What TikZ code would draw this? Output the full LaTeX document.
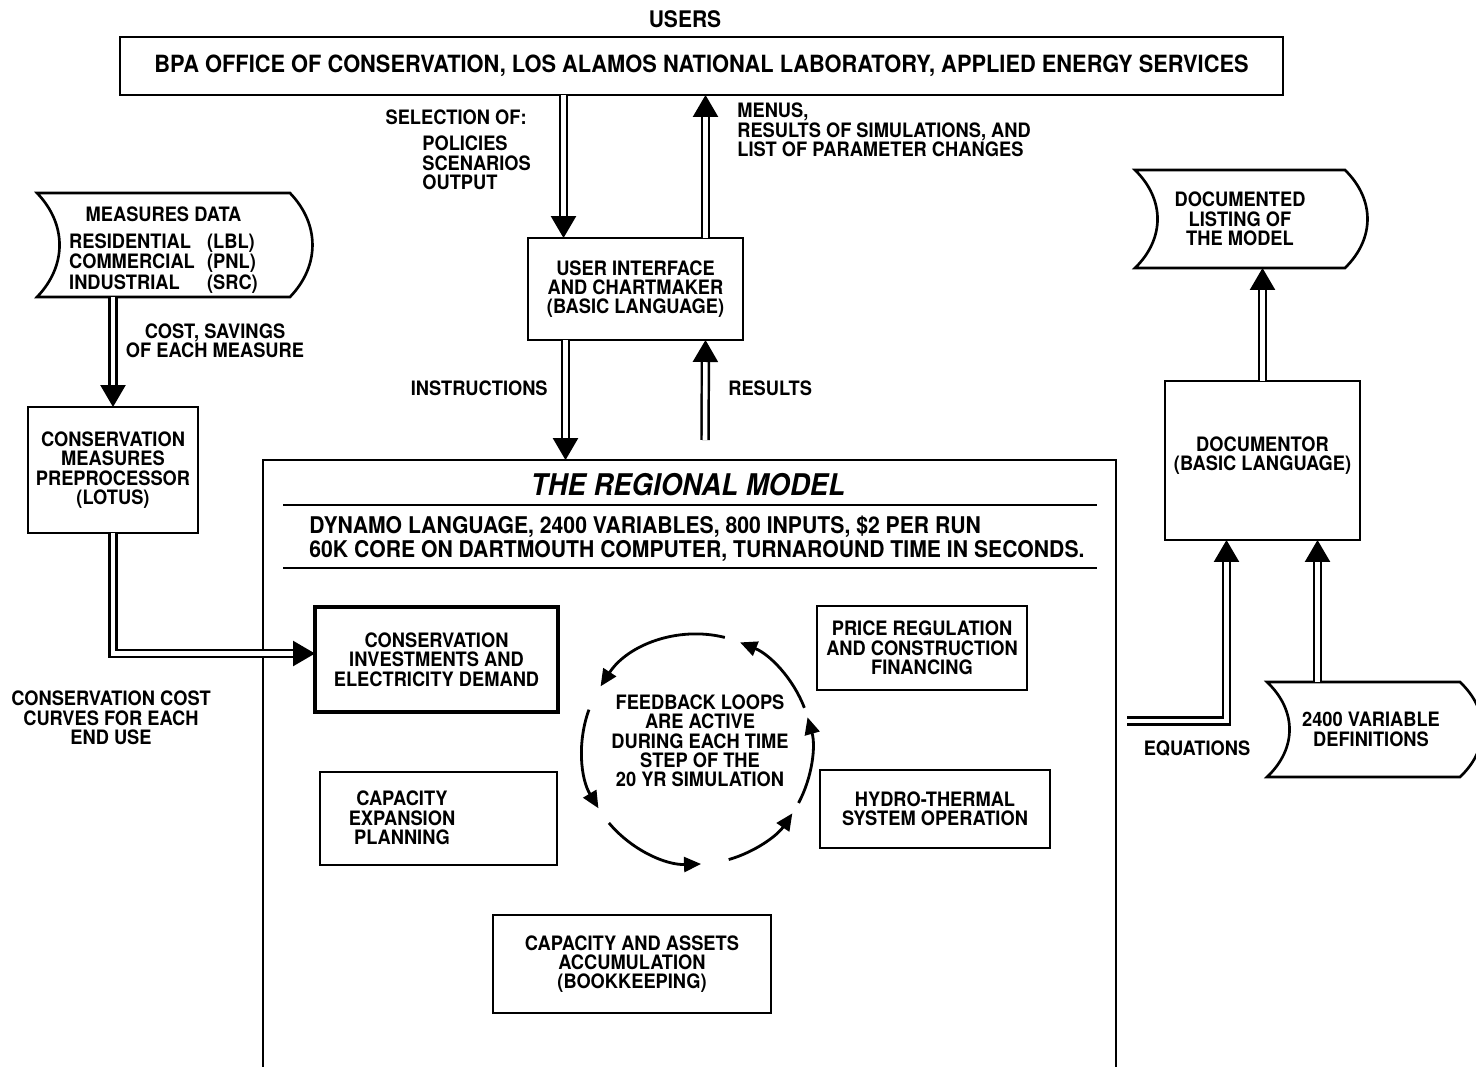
\documentclass[tikz,border=0pt]{standalone}
\usepackage{fontspec}
\newfontfamily\hvfont{TeX Gyre Heros}[FakeStretch=0.92]
\usetikzlibrary{arrows.meta,calc}

\begin{document}
\begin{tikzpicture}[
  x=0.02cm, y=-0.02cm,
  txt/.style={font=\hvfont\bfseries\fontsize{11.3}{11}\selectfont, align=center, inner sep=0pt},
  box/.style={draw, line width=1.5pt, txt, outer sep=0pt},
  tapebox/.style={txt, outer sep=0pt},
  dbl/.style={double, double distance=2.6pt, line width=1.4pt, line join=miter, -{Triangle[length=0.44cm, width=0.5cm]}},
  looparr/.style={line width=1.6pt, -{Triangle[length=0.34cm, width=0.3cm]}},
]
\useasboundingbox (0,0) rectangle (1476,1066);
\clip (0,0) rectangle (1476,1066);

% users
\node[font=\hvfont\bfseries\fontsize{13}{14}\selectfont] (userslbl) at (685,19) {USERS};
\node[draw, line width=1.4pt, minimum width=23.26cm, minimum height=1.16cm, outer sep=0pt,
  font=\hvfont\bfseries\fontsize{13.5}{15}\selectfont] (users) at (701.5,66)
  {\raisebox{3pt}{BPA OFFICE OF CONSERVATION, LOS ALAMOS NATIONAL LABORATORY, APPLIED ENERGY SERVICES}};

\node[box, minimum width=4.3cm, minimum height=2.04cm] (ui) at (635.5,289) {USER INTERFACE\\AND CHARTMAKER\\(BASIC LANGUAGE)};

% the model
\node[draw, line width=1.5pt, minimum width=17.06cm, minimum height=12.6cm, outer sep=0pt] (model) at (689.5,775) {};
\node[font=\hvfont\bfseries\itshape\fontsize{17}{19}\selectfont, inner sep=0pt] (title) at (688,485) {THE REGIONAL MODEL};
\draw[line width=1.1pt] (283,505) -- (1097,505);
\node[txt, font=\hvfont\bfseries\fontsize{13.1}{13.6}\selectfont, align=left, anchor=west] (info) at (309,539)
  {DYNAMO LANGUAGE, 2400 VARIABLES, 800 INPUTS, \$2 PER RUN\\60K CORE ON DARTMOUTH COMPUTER, TURNAROUND TIME IN SECONDS.};
\draw[line width=1.1pt] (283,568) -- (1097,568);

\node[box, line width=2.6pt, minimum width=4.86cm, minimum height=2.1cm] (cinv) at (436.5,659.5) {CONSERVATION\\INVESTMENTS AND\\ELECTRICITY DEMAND};
\node[box, minimum width=4.2cm, minimum height=1.68cm] (price) at (922,648) {PRICE REGULATION\\AND CONSTRUCTION\\FINANCING};
\node[box, minimum width=4.74cm, minimum height=1.86cm] (capexp) at (438.5,818.5) {};
\node[txt] (capexplbl) at (402,818) {CAPACITY\\EXPANSION\\PLANNING};
\node[box, minimum width=4.6cm, minimum height=1.56cm] (hydro) at (935,809) {HYDRO-THERMAL\\SYSTEM OPERATION};
\node[box, minimum width=5.56cm, minimum height=1.96cm] (assets) at (632,964) {CAPACITY AND ASSETS\\ACCUMULATION\\(BOOKKEEPING)};

\coordinate (hub) at (697,749);
\node[txt] (loop) at (700,741) {FEEDBACK LOOPS\\ARE ACTIVE\\DURING EACH TIME\\STEP OF THE\\20 YR SIMULATION};
\foreach \a/\b in {76/147,160/211,220/272,286/326,332/376,21/68}
  \draw[looparr] (hub) ++(-\a:115) arc[start angle=-\a, end angle=-\b, radius=115];

% measures side
\node[tapebox, minimum width=5.06cm, minimum height=2.08cm] (measures) at (163.5,245)
  {\rule{0pt}{15pt}MEASURES DATA\\[6pt]
   \begin{tabular}{@{}l@{\hspace{7pt}}l@{}}
   RESIDENTIAL & (LBL)\\
   COMMERCIAL & (PNL)\\
   INDUSTRIAL & (SRC)
   \end{tabular}};
\node[box, minimum width=3.4cm, minimum height=2.52cm] (pre) at (113,470) {CONSERVATION\\MEASURES\\PREPROCESSOR\\(LOTUS)};

% documentor side
\node[tapebox, minimum width=4.2cm, minimum height=1.96cm] (listing) at (1240,219) {DOCUMENTED\\LISTING OF\\THE MODEL};
\node[box, minimum width=3.9cm, minimum height=3.18cm] (doc) at (1262.5,460.5) {DOCUMENTOR\\(BASIC LANGUAGE)\rule[-8pt]{0pt}{0pt}};
\node[tapebox, minimum width=3.86cm, minimum height=1.9cm] (vardefs) at (1363.5,729.5) {\hspace*{0.3cm}2400 VARIABLE\\\hspace*{0.3cm}DEFINITIONS};

\foreach \t in {measures,listing,vardefs}
  \draw[line width=1.5pt] (\t.north west)
    .. controls ($(\t.north west)!0.3!(\t.south west)+(30,0)$) and ($(\t.north west)!0.7!(\t.south west)+(30,0)$) .. (\t.south west)
    -- (\t.south east)
    .. controls ($(\t.south east)!0.3!(\t.north east)+(30,0)$) and ($(\t.south east)!0.7!(\t.north east)+(30,0)$) .. (\t.north east)
    -- cycle;

% connectors
\coordinate (selin) at ($(ui.north)+(-72,0)$);
\coordinate (menuout) at ($(ui.north)+(70,0)$);
\coordinate (instrout) at ($(ui.south)+(-70,0)$);
\coordinate (resin) at ($(ui.south)+(70,0)$);
\coordinate (resfoot) at (705,440);
\coordinate (eqfoot) at (1127,721);
\coordinate (eqin) at ($(doc.south)+(-36,0)$);
\coordinate (defout) at ($(doc.south)+(55,0)$);
\coordinate (cinvin) at ($(cinv.west)+(0,-6)$);

\draw[dbl] (selin |- users.south) -- (selin);
\draw[dbl] (menuout) -- (menuout |- users.south);
\draw[dbl] (instrout) -- (instrout |- model.north);
\draw[dbl] (resfoot) -- (resin);
\draw[dbl] (pre.north |- measures.south) -- (pre.north);
\draw[dbl] (pre.south) |- (cinvin);
\draw[dbl] (doc.north) -- (doc.north |- listing.south);
\draw[dbl] (defout |- vardefs.north) -- (defout);
\draw[dbl] (eqfoot) -| (eqin);

% labels
\node[txt, anchor=east] (sellbl) at (527,117) {SELECTION OF:};
\node[txt, anchor=west, align=left] (sellist) at (422,163) {POLICIES\\SCENARIOS\\OUTPUT};
\node[txt, anchor=west, align=left] (menulbl) at (737,130) {MENUS,\\RESULTS OF SIMULATIONS, AND\\LIST OF PARAMETER CHANGES};
\node[txt, anchor=east] (instrlbl) at (548,388) {INSTRUCTIONS};
\node[txt, anchor=west] (reslbl) at (728,388) {RESULTS};
\node[txt] (costlbl) at (215,341) {COST, SAVINGS\\OF EACH MEASURE};
\node[txt] (curvelbl) at (111,718) {CONSERVATION COST\\CURVES FOR EACH\\END USE};
\node[txt] (eqlbl) at (1197,749) {EQUATIONS};
\end{tikzpicture}
\end{document}
